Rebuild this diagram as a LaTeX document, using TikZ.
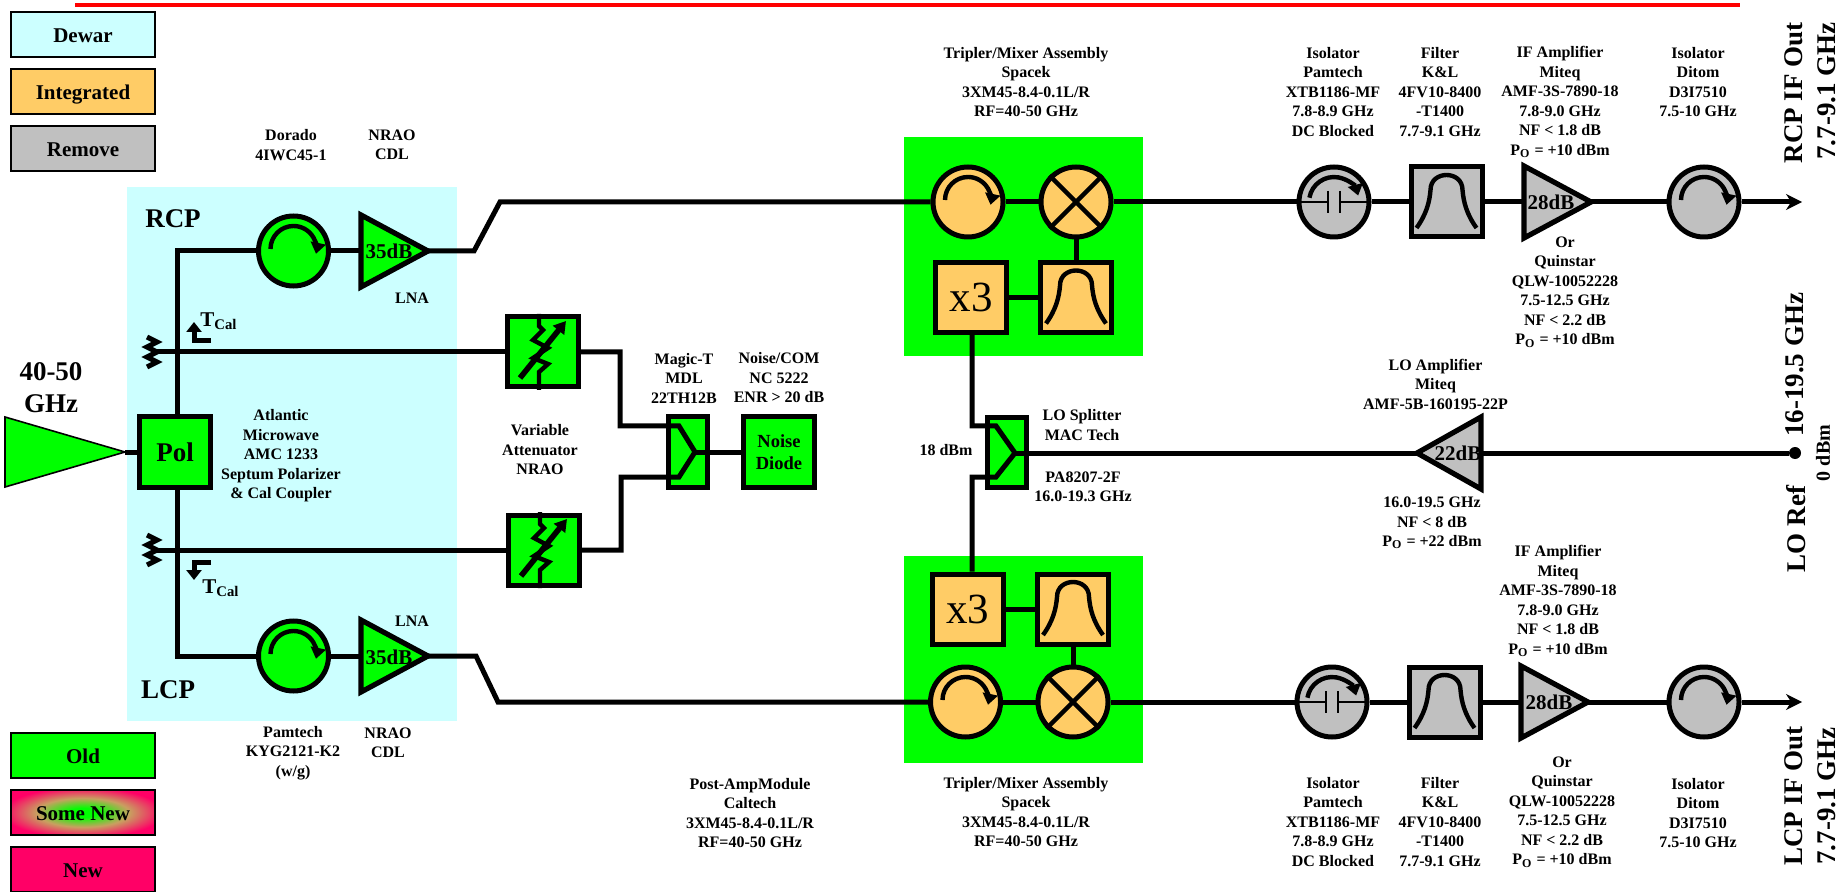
\documentclass[tikz,border=0pt]{standalone}
\usepackage{fontspec}
\setmainfont{Liberation Serif}
\usetikzlibrary{arrows.meta,shapes.geometric}
\definecolor{dewarcol}{HTML}{CCFFFF}
\definecolor{intcol}{HTML}{FFCC66}
\definecolor{remcol}{HTML}{C0C0C0}
\definecolor{oldcol}{HTML}{00FF00}
\definecolor{newcol}{HTML}{FF0066}
\definecolor{midcol}{HTML}{C8A060}
\pgfdeclareradialshading{somenewshade}{\pgfpoint{0bp}{0bp}}{color(0bp)=(oldcol); color(5bp)=(oldcol); color(16bp)=(midcol); color(28bp)=(newcol); color(100bp)=(newcol)}
\newcommand{\Po}{P\textsubscript{O}}

\begin{document}
\begin{tikzpicture}[x=.5pt,y=-.5pt,>=Latex,
  wire/.style={line width=2.5pt},
  glyph/.style={line width=2.2pt},
  legbox/.style={draw,line width=1pt,minimum width=72pt,minimum height=22.5pt,inner sep=0pt,text height=8pt,text depth=0pt,font=\fontsize{10.5}{12}\selectfont\bfseries},
  blk/.style={draw,line width=2.5pt,inner sep=0pt,minimum width=35.5pt,minimum height=35pt},
  circ/.style={draw,circle,line width=2.5pt,inner sep=0pt,minimum size=35pt},
  ampsym/.style={draw,isosceles triangle,isosceles triangle stretches,line width=2.6pt,inner sep=0pt,outer sep=0pt,minimum width=36pt,minimum height=33.5pt,anchor=lower side},
  gain/.style={inner sep=0pt,font=\fontsize{10.5}{12}\selectfont\bfseries},
  lbl/.style={align=center,inner sep=0pt,font=\fontsize{8}{9.75}\selectfont\bfseries},
  big/.style={align=center,inner sep=0pt,font=\fontsize{13.5}{16}\selectfont\bfseries},
  side/.style={big,rotate=90}]
\useasboundingbox (0,0) rectangle (1839,892);

\node[fill=dewarcol,minimum width=165pt,minimum height=267pt,inner sep=0pt] (dewarbg) at (292,454) {};
\node[fill=oldcol,minimum width=119.5pt,minimum height=109.5pt,inner sep=0pt] (asmA) at (1023.5,246.5) {};
\node[fill=oldcol,minimum width=119.5pt,minimum height=103.5pt,inner sep=0pt] (asmB) at (1023.5,659.5) {};
\draw[red,line width=2pt] (75,5) -- (1740,5);

\node[legbox,fill=dewarcol] (legDewar) at (83,34.5) {Dewar};
\node[legbox,fill=intcol] (legInt) at (83,91.5) {Integrated};
\node[legbox,fill=remcol] (legRem) at (83,148.5) {Remove};
\node[legbox,fill=oldcol] (legOld) at (83,755.5) {Old};
\node[legbox,shading=somenewshade] (legSome) at (83,812.5) {Some New};
\node[legbox,fill=newcol] (legNew) at (83,869.5) {New};

\node[draw,isosceles triangle,isosceles triangle stretches,line width=.8pt,fill=oldcol,inner sep=0pt,outer sep=0pt,minimum width=35pt,minimum height=60pt,anchor=lower side] (horn) at (5,452) {};
\node[blk,fill=oldcol,font=\fontsize{13.5}{16}\selectfont\bfseries] (pol) at (175,452) {Pol};

\node[circ,fill=oldcol] (circA) at (293.5,251) {};
\node[ampsym,fill=oldcol] (ampA) at (361,251) {};
\node[gain] (gainA) at (389,251) {35dB};
\node[circ,fill=oldcol] (circC) at (293.5,656) {};
\node[ampsym,fill=oldcol] (ampC) at (361,656) {};
\node[gain] (gainC) at (389,657) {35dB};

\node[blk,fill=oldcol] (attA) at (543,352) {};
\node[blk,fill=oldcol] (attB) at (544,550) {};
\node[blk,fill=oldcol,minimum width=19.5pt,minimum height=35pt] (mtee) at (688,452) {};
\node[blk,fill=oldcol,align=center,font=\fontsize{9.25}{11}\selectfont\bfseries] (noise) at (779,452) {Noise\\Diode};
\node[blk,fill=oldcol,minimum width=19.5pt,minimum height=35pt] (split) at (1006.5,452.5) {};

\node[circ,fill=intcol] (circB) at (968,202) {};
\node[circ,fill=intcol] (mixA) at (1076,202) {};
\node[blk,fill=intcol,font=\fontsize{21.5}{24}\selectfont] (x3A) at (971,297.5) {x3};
\node[blk,fill=intcol] (filtA) at (1076,297.5) {};
\node[blk,fill=intcol,font=\fontsize{21.5}{24}\selectfont] (x3B) at (967.5,609) {x3};
\node[blk,fill=intcol] (filtB) at (1073,609) {};
\node[circ,fill=intcol] (circD) at (965.5,702) {};
\node[circ,fill=intcol] (mixB) at (1073,702) {};

\node[circ,fill=remcol] (isoA) at (1334,202) {};
\node[blk,fill=remcol] (filtC) at (1446.5,202) {};
\node[ampsym,fill=remcol] (ampE) at (1524,202) {};
\node[gain] (gainE) at (1551,202) {28dB};
\node[circ,fill=remcol] (isoB) at (1704,202) {};
\node[circ,fill=remcol] (isoC) at (1332,702) {};
\node[blk,fill=remcol] (filtD) at (1444.5,702) {};
\node[ampsym,fill=remcol] (ampF) at (1521,702) {};
\node[gain] (gainF) at (1549,702) {28dB};
\node[circ,fill=remcol] (isoD) at (1704,702) {};
\node[ampsym,fill=remcol,shape border rotate=180,minimum height=32pt] (ampL) at (1481,453) {};
\node[gain] (gainL) at (1458,453) {22dB};
\node[circle,fill,inner sep=0pt,minimum size=6pt] (lodot) at (1795,453) {};

\coordinate (bendRa) at (177,251);
\coordinate (bendLa) at (177,656);
\coordinate (bendRb) at (474,251);
\coordinate (bendRc) at (500,202);
\coordinate (bendLb) at (476,656);
\coordinate (bendLc) at (498,702);
\coordinate (cplA) at (152,352);
\coordinate (cplB) at (152,550);
\coordinate (mtJa) at (620,426);
\coordinate (mtJb) at (621,477);
\coordinate (mtUp) at (679,426);
\coordinate (mtLow) at (679,477);
\coordinate (mtTip) at (695,452);
\coordinate (spJa) at (972,426);
\coordinate (spJb) at (972,477);
\coordinate (spUp) at (996,426);
\coordinate (spLow) at (996,477);
\coordinate (spTip) at (1015,453);
\coordinate (outA) at (1802,202);
\coordinate (outB) at (1802,702);
\coordinate (tcAa) at (211,341);
\coordinate (tcAb) at (194,322);
\coordinate (tcBa) at (211,562);
\coordinate (tcBb) at (194,580);

\draw[wire] (horn.apex) -- (pol.west);
\draw[wire] (pol.north -| bendRa) -- (bendRa) -- (circA.west);
\draw[wire] (pol.south -| bendLa) -- (bendLa) -- (circC.west);
\draw[wire] (circA.east) -- (ampA.lower side);
\draw[wire] (circC.east) -- (ampC.lower side);
\draw[wire] (ampA.apex) -- (bendRb) -- (bendRc) -- (circB.west);
\draw[wire] (ampC.apex) -- (bendLb) -- (bendLc) -- (circD.west);
\draw[wire] (cplA) -- (attA.west);
\draw[wire] (cplB) -- (attB.west);
\draw[wire] (attA.east) -| (mtJa) -- (mtUp) -- (mtTip) -- (mtLow) -- (mtJb) |- (attB.east);
\draw[wire] (mtTip) -- (noise.west);
\draw[wire] (x3A.south -| spJa) -- (spJa) -- (spUp) -- (spTip) -- (spLow) -- (spJb) -- (x3B.north -| spJb);
\draw[wire] (spTip) -- (ampL.apex);
\draw[wire] (lodot) -- (ampL.lower side);
\draw[wire] (circB) -- (mixA);
\draw[wire] (circD) -- (mixB);
\draw[wire] (mixA.south) -- (filtA.north);
\draw[wire] (mixB.north) -- (filtB.south);
\draw[wire] (x3A) -- (filtA);
\draw[wire] (x3B) -- (filtB);
\draw[wire] (mixA.east) -- (isoA.west);
\draw[wire] (mixB.east) -- (isoC.west);
\draw[wire] (isoA.east) -- (filtC.west);
\draw[wire] (isoC.east) -- (filtD.west);
\draw[wire] (filtC.east) -- (ampE.lower side);
\draw[wire] (filtD.east) -- (ampF.lower side);
\draw[wire] (ampE.apex) -- (isoB.west);
\draw[wire] (ampF.apex) -- (isoD.west);
\draw[wire,-{Stealth[length=8pt,width=8pt]}] (isoB.east) -- (outA);
\draw[wire,-{Stealth[length=8pt,width=8pt]}] (isoD.east) -- (outB);
\draw[line width=2.5pt,-{Triangle[length=5pt,width=7.5pt]}] (tcAa) -| (tcAb);
\draw[line width=2.5pt,-{Triangle[length=5pt,width=7.5pt]}] (tcBa) -| (tcBb);

\foreach \c in {cplA,cplB}
  \draw[wire,shift={(\c)}] (-5,-15) -- (5,-10) -- (-5,-5) -- (5,0) -- (-5,5) -- (5,10) -- (-5,15);
\foreach \c in {circA,circB,circC,circD,isoB,isoD}
  \draw[glyph,-{Triangle[length=5.5pt,width=7.5pt]},shift={(\c.center)}] (-23,-2) arc[start angle=180,end angle=-12,radius=11.5pt];
\foreach \c in {isoA,isoC}{
  \draw[glyph,-{Triangle[length=5.5pt,width=7.5pt]},shift={(\c.center)}] (-24.6,-4.3) arc[start angle=170,end angle=15,radius=12.5pt];
  \draw[line width=1pt,shift={(\c.center)}] (-35,0) -- (-6,0) (6,0) -- (35,0) (-6,-11) -- (-6,11) (6,-11) -- (6,11);
}
\foreach \c in {mixA,mixB}
  \draw[glyph] (\c.north west) -- (\c.south east) (\c.north east) -- (\c.south west);
\foreach \c in {filtA,filtB,filtC,filtD}
  \draw[glyph,shift={(\c.center)}] (-30,26) .. controls (-20,12) and (-17,0) .. (-16,-12) .. controls (-16,-32) and (16,-32) .. (16,-12) .. controls (17,0) and (20,12) .. (30,26);
\foreach \c in {attA,attB}{
  \draw[glyph,shift={(\c.center)}] (-4,-38) -- (-4,-26) -- (0,-22) -- (-10,-12) -- (5,-4) -- (-10,6) -- (5,12) -- (-4,20) -- (-4,38);
  \draw[line width=2.8pt,-{Triangle[length=6pt,width=7pt]},shift={(\c.center)}] (-23,26) -- (23,-31);
}

\node[big] (rcp) at (173,219) {RCP};
\node[big] (lcp) at (168,690) {LCP};
\node[big] (rfin) at (51,388) {40-50\\GHz};
\node[inner sep=0pt,font=\fontsize{10.5}{12}\selectfont\bfseries] (tcalA) at (219,321) {T\textsubscript{Cal}};
\node[inner sep=0pt,font=\fontsize{10.5}{12}\selectfont\bfseries] (tcalB) at (221,588) {T\textsubscript{Cal}};

\node[lbl] (lblDorado) at (291,145) {Dorado\\4IWC45-1};
\node[lbl] (lblCdlA) at (392,145) {NRAO\\CDL};
\node[lbl] (lblLnaA) at (412,298) {LNA};
\node[lbl] (lblLnaB) at (412,621) {LNA};
\node[lbl] (lblPam) at (293,753) {Pamtech\\KYG2121-K2\\(w/g)};
\node[lbl] (lblCdlB) at (388,743) {NRAO\\CDL};
\node[lbl] (lblPol) at (281,456) {Atlantic\\Microwave\\AMC 1233\\Septum Polarizer\\\& Cal Coupler};
\node[lbl] (lblAtt) at (540,450) {Variable\\Attenuator\\NRAO};
\node[lbl] (lblMag) at (684,378) {Magic-T\\MDL\\22TH12B};
\node[lbl] (lblCom) at (779,378) {Noise/COM\\NC 5222\\ENR > 20 dB};
\node[lbl] (lblTriA) at (1026,82) {Tripler/Mixer Assembly\\Spacek\\3XM45-8.4-0.1L/R\\RF=40-50 GHz};
\node[lbl] (lblTriB) at (1026,812) {Tripler/Mixer Assembly\\Spacek\\3XM45-8.4-0.1L/R\\RF=40-50 GHz};
\node[lbl] (lblPost) at (750,813) {Post-AmpModule\\Caltech\\3XM45-8.4-0.1L/R\\RF=40-50 GHz};
\node[lbl] (lblSpl) at (1082,425) {LO Splitter\\MAC Tech};
\node[lbl] (lblDbm) at (946,450) {18 dBm};
\node[lbl] (lblPa) at (1083,487) {PA8207-2F\\16.0-19.3 GHz};
\node[lbl] (lblIsoA) at (1333,92) {Isolator\\Pamtech\\XTB1186-MF\\7.8-8.9 GHz\\DC Blocked};
\node[lbl] (lblFilA) at (1440,92) {Filter\\K\&L\\4FV10-8400\\-T1400\\7.7-9.1 GHz};
\node[lbl] (lblIfA) at (1560,102) {IF Amplifier\\Miteq\\AMF-3S-7890-18\\7.8-9.0 GHz\\NF < 1.8 dB\\\Po{} = +10 dBm};
\node[lbl] (lblDitA) at (1698,82) {Isolator\\Ditom\\D3I7510\\7.5-10 GHz};
\node[lbl] (lblOrA) at (1565,292) {Or\\Quinstar\\QLW-10052228\\7.5-12.5 GHz\\NF < 2.2 dB\\\Po{} = +10 dBm};
\node[lbl] (lblLoA) at (1435.5,384) {LO Amplifier\\Miteq\\AMF-5B-160195-22P};
\node[lbl] (lblLoB) at (1432,523) {16.0-19.5 GHz\\NF < 8 dB\\\Po{} = +22 dBm};
\node[lbl] (lblIfB) at (1558,601) {IF Amplifier\\Miteq\\AMF-3S-7890-18\\7.8-9.0 GHz\\NF < 1.8 dB\\\Po{} = +10 dBm};
\node[lbl] (lblIsoB) at (1333,822) {Isolator\\Pamtech\\XTB1186-MF\\7.8-8.9 GHz\\DC Blocked};
\node[lbl] (lblFilB) at (1440,822) {Filter\\K\&L\\4FV10-8400\\-T1400\\7.7-9.1 GHz};
\node[lbl] (lblOrB) at (1562,812) {Or\\Quinstar\\QLW-10052228\\7.5-12.5 GHz\\NF < 2.2 dB\\\Po{} = +10 dBm};
\node[lbl] (lblDitB) at (1698,813) {Isolator\\Ditom\\D3I7510\\7.5-10 GHz};

\node[side] (outRcp) at (1794,93) {RCP IF Out};
\node[side] (freqRcp) at (1827,91) {7.7-9.1 GHz};
\node[side] (freqLo) at (1795,365) {16-19.5 GHz};
\node[side] (outLo) at (1796,529) {LO Ref};
\node[side,font=\fontsize{10}{12}\selectfont\bfseries] (dbmLo) at (1823,453) {0 dBm};
\node[side] (outLcp) at (1794,796) {LCP IF Out};
\node[side] (freqLcp) at (1827,796) {7.7-9.1 GHz};
\end{tikzpicture}
\end{document}
